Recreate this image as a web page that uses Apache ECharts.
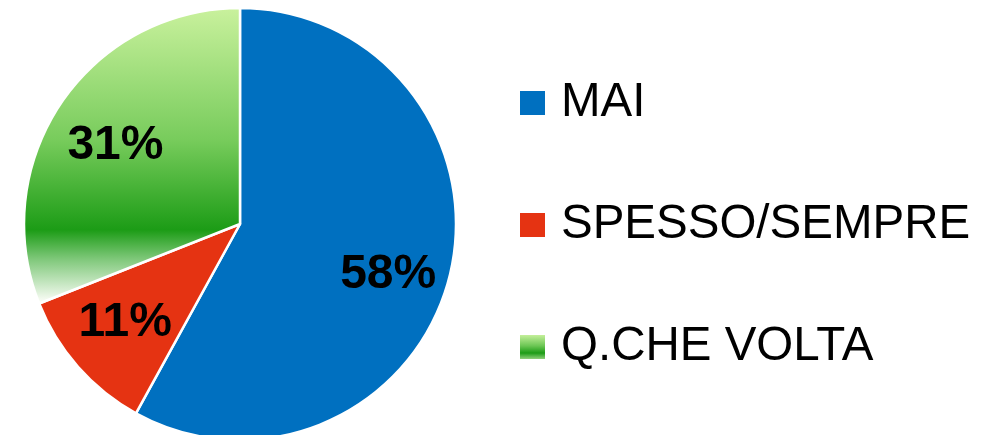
<!DOCTYPE html>
<html><head><meta charset="utf-8">
<script src="https://cdn.jsdelivr.net/npm/echarts@6/dist/echarts.min.js"></script>
<style>html,body{margin:0;padding:0;background:#fff}#c{width:1000px;height:435px}</style>
</head><body><div id="c"></div>
<script>
const categories = ['MAI', 'SPESSO/SEMPRE', 'Q.CHE VOLTA'];
const values = [58, 11, 31];
const labels = ['58%', '11%', '31%'];

const greenSlice = {type:'linear', x:0, y:8, x2:0, y2:300, global:true, colorStops:[
  {offset:0, color:'#c9f19d'}, {offset:0.45, color:'#78cc5c'}, {offset:0.76, color:'#1c9c16'},
  {offset:0.86, color:'#7fc87a'}, {offset:1, color:'#f6fbf2'}]};
const greenIcon = {type:'linear', x:0, y:0, x2:0, y2:1, colorStops:[
  {offset:0, color:'#c4ef9a'}, {offset:0.45, color:'#6cc654'}, {offset:0.75, color:'#1c9c16'}, {offset:1, color:'#8fd07a'}]};
const colors = ['#0070c0', '#e53312', greenSlice];
const iconColors = ['#0070c0', '#e53312', greenIcon];
const labelShift = [[0, 13], [0, -2], [2, 8]];

const chart = echarts.init(document.getElementById('c'), null, {renderer:'canvas'});
chart.setOption({
  animation:false,
  legend:{
    orient:'vertical', left:520, top:78, padding:0, itemWidth:25, itemHeight:24, itemGap:72,
    icon:'rect',
    itemStyle:{borderWidth:0},
    textStyle:{fontFamily:'Liberation Sans, Arial', fontSize:47.5, color:'#000', lineHeight:50, padding:[0,0,0,11]},
    data: categories.map((n,i)=>({name:n, itemStyle:{color:iconColors[i], borderWidth:0}}))
  },
  series:[{
    type:'pie', center:[240,224], radius:216, startAngle:90, clockwise:true,
    label:{show:false}, labelLine:{show:false}, silent:true,
    itemStyle:{borderColor:'#fff', borderWidth:2.5},
    data: categories.map((n,i)=>({name:n, value:values[i], itemStyle:{color:colors[i]}}))
  },{
    type:'pie', center:[240,224], radius:300, startAngle:90, clockwise:true, silent:true,
    legendHoverLink:false,
    itemStyle:{color:'rgba(0,0,0,0)', borderWidth:0},
    labelLine:{show:false},
    label:{show:true, position:'inside', fontFamily:'Liberation Sans, Arial', fontWeight:'bold', fontSize:48, color:'#000',
      formatter:(p)=>labels[p.dataIndex]},
    data: categories.map((n,i)=>({name:'_'+n, value:values[i], label:{offset:labelShift[i]}}))
  }]
});
</script></body></html>
